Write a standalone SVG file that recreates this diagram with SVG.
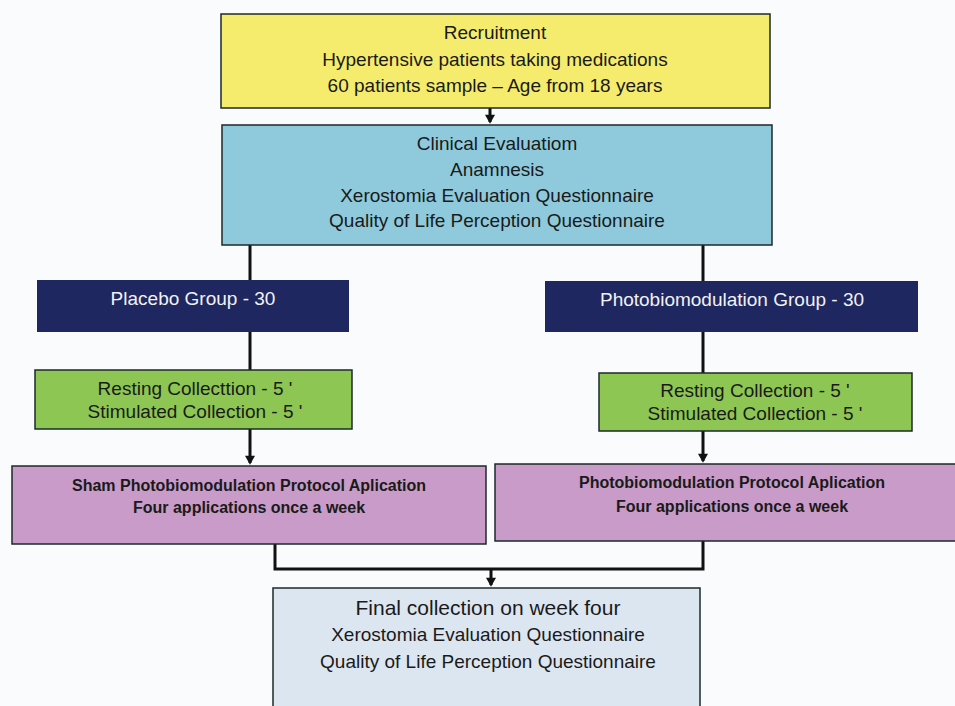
<svg xmlns="http://www.w3.org/2000/svg" width="955" height="706" viewBox="0 0 955 706">
<defs>
<style>
.t{font-family:"Liberation Sans",Arial,sans-serif;font-size:19px;fill:#1a1a1a;text-anchor:middle}
.w{fill:#f2f2f2}
.b{font-weight:bold;font-size:16px}
.box{stroke:#1e2a2a;stroke-width:1.5}
.ln{stroke:#111;stroke-width:3;fill:none}
.ar{marker-end:url(#ah)}
</style>
<marker id="ah" markerWidth="11" markerHeight="10" refX="8" refY="5.5" orient="auto" markerUnits="userSpaceOnUse" viewBox="0 0 10 11">
<path d="M0,0 L10,5.5 L0,11 Z" fill="#111"/>
</marker>
</defs>
<rect width="955" height="706" fill="#fafbfd"/>
<g id="connectors">
<line class="ln ar" x1="490" y1="108" x2="490" y2="122"/>
<line class="ln" x1="250" y1="245" x2="250" y2="280"/>
<line class="ln" x1="703" y1="245" x2="703" y2="281"/>
<line class="ln" x1="250" y1="332" x2="250" y2="370"/>
<line class="ln" x1="703" y1="332" x2="703" y2="373"/>
<line class="ln ar" x1="250" y1="429" x2="250" y2="463"/>
<line class="ln ar" x1="703" y1="431" x2="703" y2="461"/>
<polyline class="ln" points="275,544 275,569 703,569 703,541"/>
<line class="ln ar" x1="491" y1="569" x2="491" y2="585"/>
</g>
<g id="recruitment">
<rect class="box" x="221" y="14" width="549" height="94" fill="#f5ec6e"/>
<text class="t" x="495" y="39">Recruitment</text>
<text class="t" x="495" y="66">Hypertensive patients taking medications</text>
<text class="t" x="495" y="92">60 patients sample – Age from 18 years</text>
</g>
<g id="clinical">
<rect class="box" x="222" y="125" width="550" height="120" fill="#8ecadc"/>
<text class="t" x="497" y="150">Clinical Evaluatiom</text>
<text class="t" x="497" y="176">Anamnesis</text>
<text class="t" x="497" y="202">Xerostomia Evaluation Questionnaire</text>
<text class="t" x="497" y="227">Quality of Life Perception Questionnaire</text>
</g>
<g id="placebo">
<rect x="37" y="280" width="312" height="52" fill="#1f2760"/>
<text class="t w" x="193" y="305">Placebo Group - 30</text>
</g>
<g id="pbm">
<rect x="545" y="281" width="373" height="51" fill="#1f2760"/>
<text class="t w" x="732" y="306">Photobiomodulation Group - 30</text>
</g>
<g id="rest-left">
<rect class="box" x="35" y="370" width="317" height="59" fill="#8dc653"/>
<text class="t" x="195" y="395">Resting Collecttion - 5 '</text>
<text class="t" x="195" y="418">Stimulated Collection - 5 '</text>
</g>
<g id="rest-right">
<rect class="box" x="599" y="373" width="313" height="58" fill="#8dc653"/>
<text class="t" x="755" y="397">Resting Collection - 5 '</text>
<text class="t" x="755" y="420">Stimulated Collection - 5 '</text>
</g>
<g id="sham">
<rect class="box" x="12" y="466" width="474" height="78" fill="#c89bc8"/>
<text class="t b" x="249" y="491">Sham Photobiomodulation Protocol Aplication</text>
<text class="t b" x="249" y="513">Four applications once a week</text>
</g>
<g id="protocol">
<rect class="box" x="495" y="464" width="470" height="77" fill="#c89bc8"/>
<text class="t b" x="732" y="488">Photobiomodulation Protocol Aplication</text>
<text class="t b" x="732" y="512">Four applications once a week</text>
</g>
<g id="final">
<rect class="box" x="273" y="588" width="427" height="130" fill="#dce6f0"/>
<text class="t" x="488" y="615" style="font-size:21px">Final collection on week four</text>
<text class="t" x="488" y="641">Xerostomia Evaluation Questionnaire</text>
<text class="t" x="488" y="668">Quality of Life Perception Questionnaire</text>
</g>
</svg>
